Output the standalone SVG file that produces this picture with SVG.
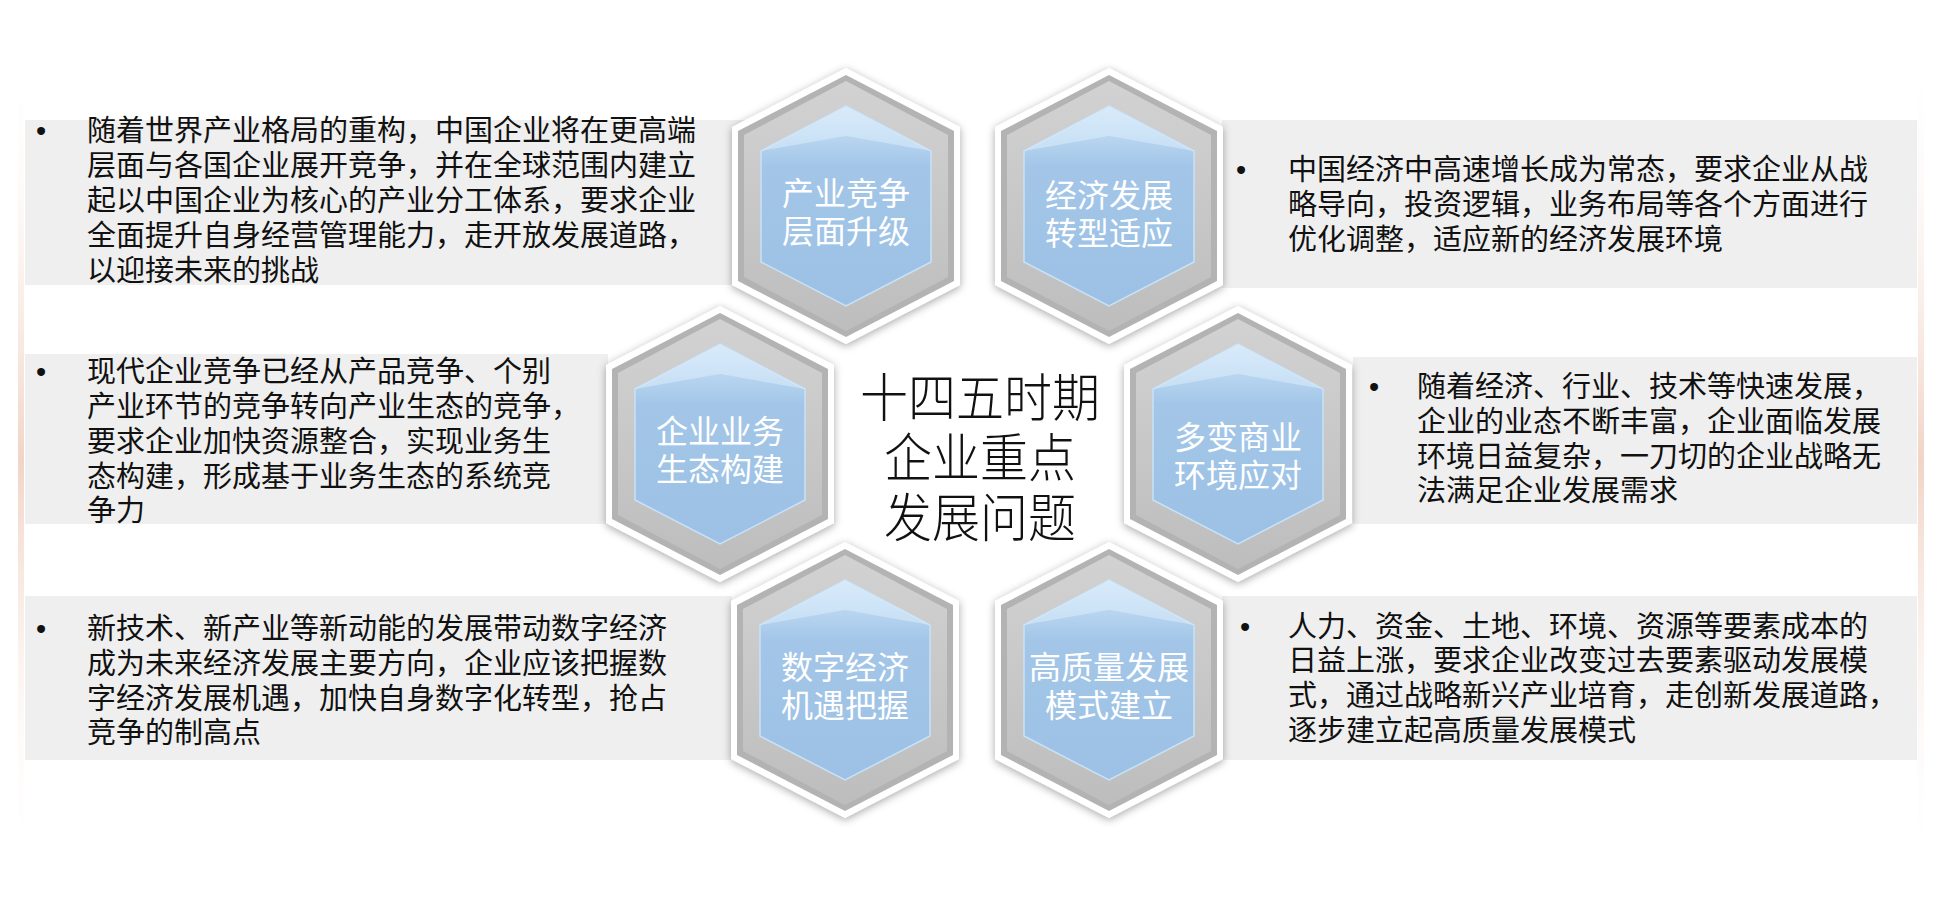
<svg xmlns="http://www.w3.org/2000/svg" width="1946" height="908" viewBox="0 0 1946 908">
<style>
.t{font-family:"Liberation Sans","Noto Sans CJK SC",sans-serif;font-size:29px;fill:#111}
.h{font-family:"Liberation Sans","Noto Sans CJK SC",sans-serif;font-size:32px;fill:#fff;text-anchor:middle}
.c{font-family:"Liberation Sans","Noto Sans CJK SC",sans-serif;font-size:52px;fill:#111;text-anchor:middle;font-weight:300}
.band{fill:#efefef}
</style>
<defs>
<linearGradient id="gb" x1="0" y1="0" x2="0" y2="1"><stop offset="0" stop-color="#d0e6f9"/><stop offset="0.3" stop-color="#a3c6e8"/><stop offset="1" stop-color="#9cc1e4"/></linearGradient>
<linearGradient id="gg" x1="0" y1="0" x2="0" y2="1"><stop offset="0" stop-color="#d2d2d2"/><stop offset="1" stop-color="#bdbdbd"/></linearGradient>
<linearGradient id="edge" x1="0" y1="0" x2="0" y2="1"><stop offset="0" stop-color="#fff" stop-opacity="0"/><stop offset="0.5" stop-color="#e8b8a0" stop-opacity="0.6"/><stop offset="1" stop-color="#fff" stop-opacity="0"/></linearGradient>
<filter id="sh" x="-20%" y="-20%" width="140%" height="140%"><feDropShadow dx="0" dy="2" stdDeviation="4" flood-color="#000" flood-opacity="0.35"/></filter>
<g id="hex">
<polygon points="0,-138 114,-79 114,79 0,138 -114,79 -114,-79" fill="#fff" filter="url(#sh)"/>
<polygon points="0,-131 108,-75 108,75 0,131 -108,75 -108,-75" fill="#b3b3b3"/>
<polygon points="0,-125 102,-71 102,71 0,125 -102,71 -102,-71" fill="url(#gg)"/>
<polygon points="0,-100 85,-55 85,56 0,100 -85,56 -85,-55" fill="url(#gb)" stroke="#c8e2f8" stroke-width="1.5"/>
<polygon points="0,-100 85,-55 0,-70 -85,-55" fill="#e0f0fc" opacity="0.5"/>
</g>
</defs>
<rect width="1946" height="908" fill="#fff"/>
<rect x="18" y="40" width="6" height="840" fill="url(#edge)"/>
<rect x="1918" y="40" width="6" height="840" fill="url(#edge)"/>
<g id="bands">
<rect class="band" x="25" y="120" width="720" height="165"/>
<rect class="band" x="1222" y="120" width="695" height="168"/>
<rect class="band" x="25" y="354" width="583" height="170"/>
<rect class="band" x="1353" y="357" width="564" height="167"/>
<rect class="band" x="25" y="596" width="707" height="164"/>
<rect class="band" x="1222" y="596" width="695" height="164"/>
</g>
<g id="connectors"/>
<g id="n1"><use href="#hex" x="846" y="206"/><text class="h" x="846" y="205">产业竞争</text><text class="h" x="846" y="243">层面升级</text></g>
<g id="n2"><use href="#hex" x="1109" y="206"/><text class="h" x="1109" y="207">经济发展</text><text class="h" x="1109" y="245">转型适应</text></g>
<g id="n3"><use href="#hex" x="720" y="444"/><text class="h" x="720" y="443">企业业务</text><text class="h" x="720" y="481">生态构建</text></g>
<g id="n4"><use href="#hex" x="1238" y="444"/><text class="h" x="1238" y="449">多变商业</text><text class="h" x="1238" y="487">环境应对</text></g>
<g id="n5"><use href="#hex" x="845" y="680"/><text class="h" x="845" y="679">数字经济</text><text class="h" x="845" y="717">机遇把握</text></g>
<g id="n6"><use href="#hex" x="1109" y="680"/><text class="h" x="1109" y="679">高质量发展</text><text class="h" x="1109" y="717">模式建立</text></g>
<g id="center">
<text class="c" x="980" y="417" textLength="240" lengthAdjust="spacingAndGlyphs">十四五时期</text>
<text class="c" x="980" y="477" textLength="192" lengthAdjust="spacingAndGlyphs">企业重点</text>
<text class="c" x="980" y="537" textLength="192" lengthAdjust="spacingAndGlyphs">发展问题</text>
</g>
<g id="txt1" class="t">
<text x="36" y="141">•</text>
<text x="87" y="141">随着世界产业格局的重构，中国企业将在更高端</text>
<text x="87" y="176">层面与各国企业展开竞争，并在全球范围内建立</text>
<text x="87" y="211">起以中国企业为核心的产业分工体系，要求企业</text>
<text x="87" y="246">全面提升自身经营管理能力，走开放发展道路，</text>
<text x="87" y="281">以迎接未来的挑战</text>
</g>
<g id="txt2" class="t">
<text x="1236" y="180">•</text>
<text x="1288" y="180">中国经济中高速增长成为常态，要求企业从战</text>
<text x="1288" y="215">略导向，投资逻辑，业务布局等各个方面进行</text>
<text x="1288" y="250">优化调整，适应新的经济发展环境</text>
</g>
<g id="txt3" class="t">
<text x="36" y="382">•</text>
<text x="87" y="382">现代企业竞争已经从产品竞争、个别</text>
<text x="87" y="417">产业环节的竞争转向产业生态的竞争，</text>
<text x="87" y="452">要求企业加快资源整合，实现业务生</text>
<text x="87" y="487">态构建，形成基于业务生态的系统竞</text>
<text x="87" y="521">争力</text>
</g>
<g id="txt4" class="t">
<text x="1369" y="397">•</text>
<text x="1417" y="397">随着经济、行业、技术等快速发展，</text>
<text x="1417" y="432">企业的业态不断丰富，企业面临发展</text>
<text x="1417" y="467">环境日益复杂，一刀切的企业战略无</text>
<text x="1417" y="501">法满足企业发展需求</text>
</g>
<g id="txt5" class="t">
<text x="36" y="639">•</text>
<text x="87" y="639">新技术、新产业等新动能的发展带动数字经济</text>
<text x="87" y="674">成为未来经济发展主要方向，企业应该把握数</text>
<text x="87" y="709">字经济发展机遇，加快自身数字化转型，抢占</text>
<text x="87" y="743">竞争的制高点</text>
</g>
<g id="txt6" class="t">
<text x="1240" y="637">•</text>
<text x="1288" y="637">人力、资金、土地、环境、资源等要素成本的</text>
<text x="1288" y="671">日益上涨，要求企业改变过去要素驱动发展模</text>
<text x="1288" y="706">式，通过战略新兴产业培育，走创新发展道路，</text>
<text x="1288" y="741">逐步建立起高质量发展模式</text>
</g>
</svg>
